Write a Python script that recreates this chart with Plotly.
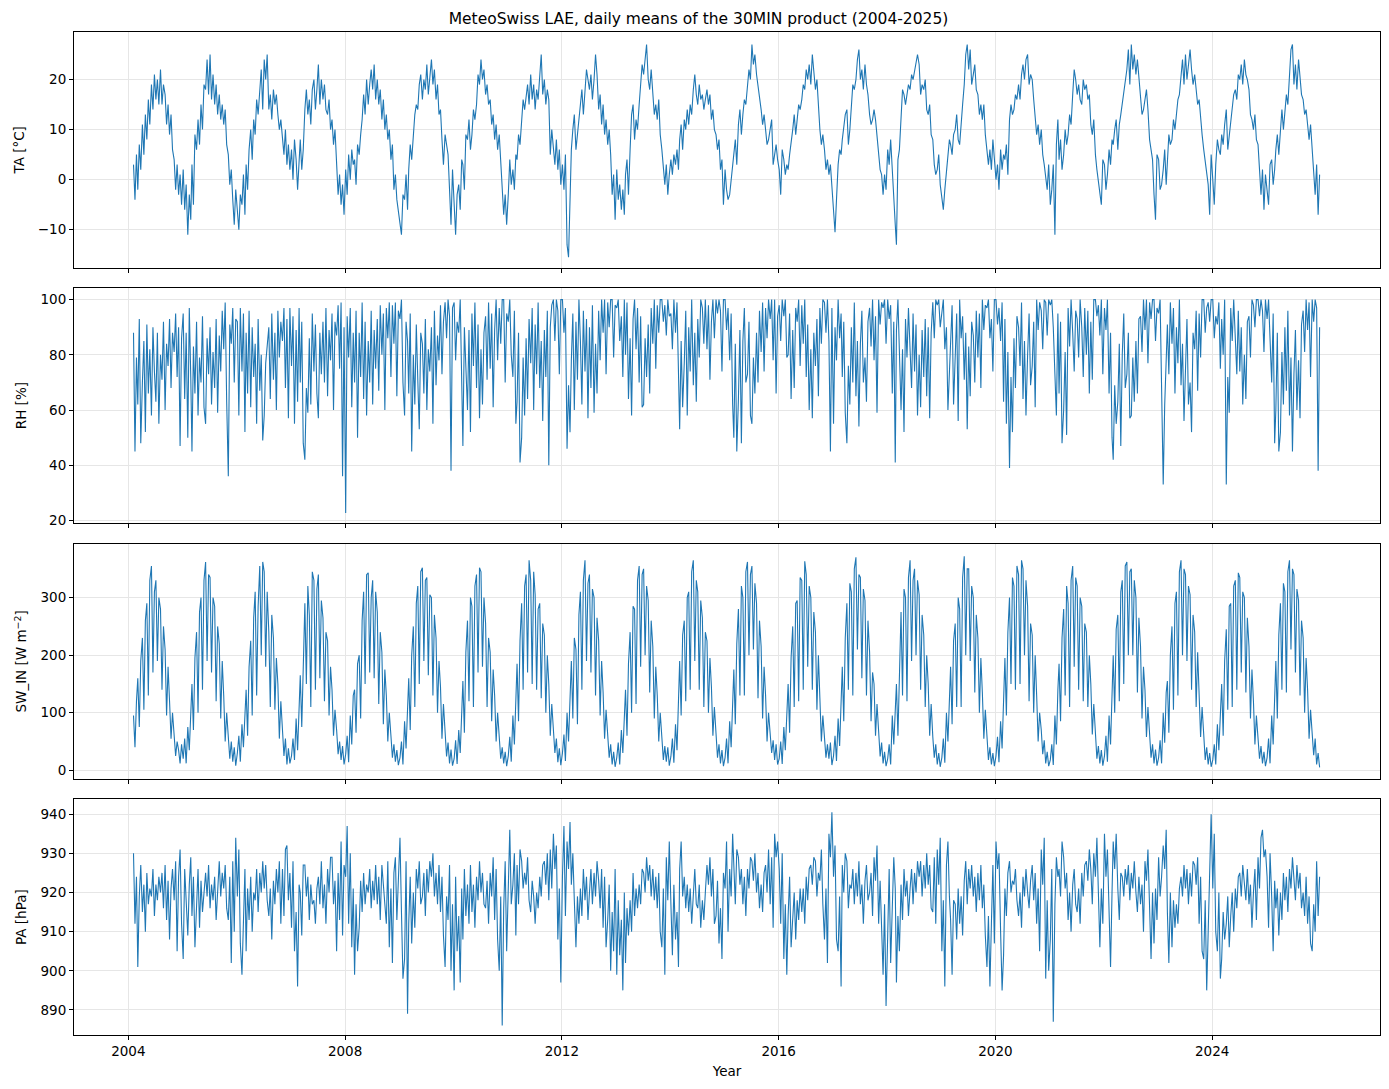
import plotly.graph_objects as go
from plotly.subplots import make_subplots
import pandas as pd

# values, one value per ~10 days (days 5, 15, 25 of each month)
YEARS = list(range(2004, 2026))

TA = [
    [3,-4,5, -2,7,2, 11,5,13, 8,16,11, 19,14,21, 16,20,15, 22,15,19, 17,11,15, 9,13,6, 4,-2,3, -3,1,-5],
    [2,-6,-1, -11,-3,-8, 3,-5,9, 6,12,7, 15,10,19, 18,24,17, 25,16,21, 15,19,13, 17,12,15, 11,14,7, 5,-1,2, -4,-9,-2],
    [-6,-10,-3, -5,1,-7, 3,-2,6, 10,4,12, 9,16,13, 17,22,14, 24,20,25, 14,17,12, 18,15,17, 13,10,12, 8,5,10, 3,7,2],
    [6,0,8, 4,-2,5, 8,2,6, 14,18,13, 16,11,18, 20,14,18, 23,15,20, 16,19,14, 13,16,10, 12,7,10, 3,-3,1, -5,-1,-7],
    [2,-3,5, 0,6,3, 4,-1,7, 5,9,12, 17,13,20, 15,19,22, 18,23,16, 20,15,18, 12,16,10, 13,8,10, 4,7,-2, 1,-4,-6],
    [-8,-11,-3, -4,1,-6, 2,7,4, 10,13,15, 14,19,21, 16,20,18, 23,17,21, 24,19,22, 16,19,13, 14,8,3, 9,7,5, -2,-9,2],
    [-5,-11,-3, -1,-6,4, 3,-2,9, 8,12,6, 9,14,12, 15,21,19, 24,20,22, 17,19,15, 16,11,13, 8,11,6, 9,4,-1, -7,-3,-9],
    [-3,4,-1, 2,-2,5, 4,9,7, 12,16,14, 17,19,15, 21,16,19, 14,18,16, 22,25,17, 20,15,18, 16,5,10, 6,3,8, 2,6,-1],
    [3,-2,5, -13,-15.5,-6, 6,10,13, 6,9,11, 15,18,13, 17,22,20, 18,21,16, 20,25,21, 14,17,11, 15,9,12, 7,10,5, -3,1,-8],
    [2,-4,-1, -6,-2,-7, 1,4,-3, 6,13,15, 8,12,10, 15,19,23, 21,24,27, 20,18,22, 17,13,15, 12,16,9, 6,2,-1, 3,-3,1],
    [4,1,5, 3,6,2, 8,11,6, 12,10,14, 11,15,13, 18,21,17, 15,19,16, 17,14,16, 18,15,17, 12,14,10, 9,6,8, 2,4,-5],
    [2,-2,-4, -3,0,3, 5,8,3, 11,14,9, 13,16,15, 18,22,20, 27,23,25, 21,19,17, 14,11,13, 10,7,8, 10,12,3, 5,7,4],
    [2,-3,6, 4,1,3, 2,5,7, 10,13,9, 12,15,14, 16,19,18, 22,20,23, 19,25,21, 18,20,14, 10,7,9, 6,2,4, 1,3,-2],
    [-6,-10.5,-4, 3,6,5, 8,11,13, 14,7,10, 15,19,18, 20,24,26, 20,22,18, 23,19,17, 13,11,12, 14,12,9, 5,2,1, -3,1,-2],
    [6,3,8, 1,-4,-9, -13,4,6, 12,18,17, 15,17,19, 18,21,20, 22,24,25, 23,17,19, 18,20,14, 13,15,9, 8,3,1, 2,5,-1],
    [-4,-6,-2, 2,6,8, 7,5,9, 10,13,8, 7,12,15, 19,25,27, 22,26,19, 21,23,18, 17,13,15, 12,15,9, 5,3,6, 2,8,4],
    [0,3,-2, 6,2,5, 4,7,1, 12,15,13, 14,17,16, 19,16,21, 23,20,24, 25,19,21, 20,16,13, 9,11,7, 10,5,3, 1,-2,3],
    [-5,-2,3, -11,7,12, 4,8,2, 5,10,7, 9,13,11, 17,22,20, 17,19,16, 15,20,18, 19,16,17, 11,9,12, 5,2,0, -2,-5,4],
    [3,-2,1, 6,3,8, 7,10,12, 6,11,13, 15,18,20, 22,26,19, 27,22,25, 21,24,20, 17,13,14, 16,18,14, 8,6,4, -3,-8,5],
    [4,-2,-1, 2,6,-1, 5,9,7, 8,12,10, 13,16,17, 21,24,19, 25,20,23, 26,22,19, 21,18,15, 16,12,9, 6,4,2, -1,-7,5],
    [0,-5,3, 8,6,5, 9,7,11, 14,6,9, 12,15,17, 18,16,21, 20,23,19, 24,21,20, 18,13,12, 10,13,8, 7,2,-3, 2,-6,1],
    [-2,-5,3, 4,-1,2, 6,9,5, 11,14,10, 13,17,15, 22,26,27, 19,23,18, 24,20,17, 16,13,14, 10,8,11, 6,2,-3, 3,-7,1],
]

RH = [
    [88,45,79, 62,93,48, 70,85,52, 91,66,82, 58,90,74, 63,88,55, 80,71,92, 60,84,76, 93,68,88, 81,95,72, 90,47,86],
    [95,64,88, 50,97,72, 45,83,66, 92,58,79, 70,94,61, 55,86,73, 90,62,81, 68,93,59, 87,74,96, 82,99,63, 36,91,84, 97,70,93],
    [92,58,97, 74,95,52, 88,66,96, 61,90,72, 84,55,93, 67,80,49, 58,77,85, 90,64,95, 71,88,60, 96,79,92, 85,97,68, 93,57,97],
    [76,94,55, 89,63,97, 70,92,48, 42,68,59, 86,62,95, 74,91,66, 57,88,73, 92,70,97, 65,89,78, 95,60,92, 87,98,75, 99,36,90],
    [22.7,94,79, 97,61,88, 70,96,50, 88,72,99, 64,92,58, 85,70,96, 62,89,75, 93,67,98, 80,95,60, 97,86,99, 72,98,84, 99,65,96],
    [93,100,70, 58,92,85, 66,95,45, 80,62,91, 71,53,88, 84,66,93, 60,82,74, 90,55,96, 69,87,78, 98,73,92, 99,86,100, 94,38,97],
    [99,78,92, 88,100,64, 47,90,73, 60,89,52, 95,76,99, 68,91,57, 82,62,88, 94,71,99, 75,95,61, 89,100,78, 97,84,100, 100,70,95],
    [92,100,80, 72,96,55, 63,88,41, 50,79,58, 86,64,93, 77,97,60, 91,73,99, 68,85,56, 89,72,96, 40,90,98, 100,85,100, 96,73,100],
    [100,88,97, 46,69,52, 78,95,60, 92,71,100, 85,62,96, 74,93,57, 90,68,98, 59,84,66, 96,78,100, 88,100,73, 99,90,100, 100,79,98],
    [97,100,85, 94,72,100, 80,99,64, 86,58,93, 100,82,97, 70,94,61, 62,86,72, 91,66,97, 84,100,75, 98,88,100, 100,92,98, 87,100,94],
    [95,82,100, 88,99,70, 53,85,61, 77,96,58, 90,74,100, 69,88,63, 93,79,100, 97,84,100, 82,98,71, 92,100,86, 100,95,100, 96,74,100],
    [100,89,97, 78,95,62, 50,84,45, 64,89,48, 85,97,70, 73,92,58, 55,79,66, 88,70,96, 81,99,74, 97,86,100, 93,100,78, 100,66,94],
    [98,85,100, 94,100,79, 80,95,64, 89,68,97, 92,100,76, 98,84,100, 72,91,60, 82,57,88, 76,93,65, 97,84,100, 99,88,100, 85,45,97],
    [55,90,78, 100,86,95, 72,92,59, 48,76,62, 90,70,99, 65,85,54, 84,96,70, 79,63,92, 97,83,100, 78,94,59, 100,91,99, 97,100,84],
    [100,93,98, 66,92,41, 89,100,77, 60,82,52, 93,79,97, 84,68,95, 74,91,58, 80,61,89, 72,93,65, 90,57,88, 99,86,100, 98,100,90],
    [96,100,82, 90,60,75, 84,98,62, 78,95,56, 100,86,94, 71,88,53, 83,65,92, 87,70,96, 79,95,68, 100,89,98, 97,100,86, 93,74,100],
    [100,91,97, 85,99,63, 93,55,81, 39,72,52, 86,68,94, 90,76,99, 64,85,58, 80,95,69, 76,92,61, 100,89,99, 96,82,100, 99,87,100],
    [98,100,90, 73,58,95, 66,92,48, 60,81,51, 97,83,100, 88,74,96, 93,79,100, 90,72,97, 80,96,66, 92,71,100, 100,94,98, 87,100,73],
    [97,89,100, 66,88,50, 42,69,55, 63,84,47, 80,95,68, 73,88,57, 58,79,63, 85,66,93, 94,81,100, 89,100,77, 99,93,100, 100,85,97],
    [95,100,70, 33,62,79, 91,73,99, 84,97,66, 90,77,100, 69,84,56, 78,93,62, 70,52,88, 82,96,67, 95,79,100, 100,88,97, 99,92,100],
    [100,86,94, 91,99,75, 93,80,100, 33,72,59, 97,85,100, 88,73,96, 74,90,62, 80,64,92, 94,79,100, 98,90,100, 100,94,100, 96,81,100],
    [93,100,85, 70,95,48, 60,88,45, 52,81,62, 90,67,96, 58,79,45, 73,89,60, 78,57,91, 96,81,100, 89,99,72, 100,92,100, 97,38,90],
]

SW_IN = [
    [95,40,120, 160,75,190, 230,105,260, 290,130,330, 355,170,310, 330,190,300, 280,140,250, 210,95,180, 120,55,100, 60,25,50, 35,12,45],
    [20,55,12, 75,35,105, 150,70,195, 240,100,275, 300,140,330, 362,190,340, 335,170,300, 285,120,250, 220,90,190, 130,50,100, 65,20,50, 15,40,8],
    [30,60,15, 80,40,115, 140,60,180, 225,95,265, 310,130,285, 355,200,362, 345,180,310, 240,110,270, 230,105,195, 150,55,120, 75,25,55, 10,38,12],
    [25,55,18, 90,35,110, 165,75,205, 290,150,320, 270,110,345, 330,140,315, 340,160,295, 265,120,240, 225,95,180, 140,60,105, 70,28,50, 18,42,10],
    [28,60,14, 95,45,130, 140,65,185, 200,90,260, 310,150,340, 343,170,300, 330,160,310, 275,115,240, 205,80,175, 130,50,100, 60,22,45, 15,35,9],
    [22,50,10, 85,38,120, 160,70,200, 250,110,290, 320,150,345, 352,190,330, 335,165,305, 300,130,270, 230,100,190, 145,55,115, 62,24,48, 12,36,8],
    [20,52,11, 70,30,100, 155,65,205, 260,120,300, 285,110,320, 340,170,352, 345,180,300, 255,110,230, 205,85,175, 130,50,100, 55,20,40, 12,32,7],
    [25,58,15, 95,45,135, 185,85,225, 290,140,320, 340,170,365, 330,150,345, 305,140,280, 290,125,255, 235,100,200, 150,60,115, 72,30,55, 14,38,9],
    [30,62,16, 100,50,140, 190,90,230, 210,80,270, 310,140,330, 365,190,325, 340,170,315, 300,130,265, 225,95,190, 135,55,105, 60,22,45, 10,32,6],
    [22,48,10, 70,30,105, 140,60,185, 240,100,285, 280,115,330, 355,180,340, 350,200,320, 295,135,260, 215,90,180, 130,50,100, 55,18,42, 15,40,8],
    [24,55,13, 80,35,120, 190,95,235, 260,120,300, 310,140,345, 365,190,330, 310,140,295, 265,110,240, 225,100,195, 145,60,110, 58,22,45, 12,35,7],
    [22,55,12, 85,40,125, 175,80,220, 280,130,320, 300,130,345, 362,200,340, 355,210,325, 290,125,260, 215,90,180, 130,50,100, 70,30,52, 18,45,10],
    [20,50,11, 75,35,110, 150,65,195, 250,110,290, 295,120,335, 330,140,363, 340,180,320, 300,140,275, 240,105,200, 125,50,95, 60,22,45, 20,48,9],
    [25,60,16, 90,42,125, 180,85,230, 290,140,325, 310,130,350, 370,210,340, 335,160,315, 295,130,260, 205,85,170, 150,60,115, 62,24,48, 12,32,7],
    [20,45,10, 95,45,125, 150,60,190, 275,130,315, 300,120,335, 365,190,330, 350,200,330, 305,140,270, 235,110,200, 150,60,115, 58,22,45, 10,30,6],
    [22,55,13, 100,50,140, 180,80,225, 255,110,300, 280,110,335, 372,200,350, 350,190,320, 300,135,270, 230,100,195, 135,55,105, 52,18,40, 10,30,7],
    [25,58,14, 85,38,115, 195,95,240, 300,150,335, 320,140,355, 340,150,365, 350,200,330, 285,120,255, 235,100,200, 130,50,100, 70,28,52, 12,32,7],
    [18,45,9, 95,45,140, 185,85,230, 280,130,320, 290,110,330, 355,180,335, 320,140,300, 285,120,255, 240,110,200, 150,62,115, 55,20,42, 12,35,8],
    [25,60,15, 95,45,130, 200,100,245, 270,120,310, 330,150,355, 362,200,345, 350,200,330, 300,135,265, 215,90,180, 140,58,110, 58,22,45, 12,36,8],
    [22,52,12, 100,48,135, 155,65,200, 250,105,290, 310,130,345, 365,200,350, 340,190,320, 305,140,270, 240,110,205, 145,58,110, 52,18,40, 10,30,6],
    [18,45,10, 80,35,110, 150,60,190, 245,105,285, 290,110,320, 330,140,343, 335,170,310, 300,135,265, 215,90,175, 120,45,95, 55,20,42, 12,32,7],
    [22,55,12, 95,45,130, 190,90,235, 290,140,325, 310,135,345, 365,210,350, 340,170,315, 295,130,260, 230,100,195, 140,55,105, 70,26,55, 10,30,5],
]

PA = [
    [930,912,924, 901,919,927, 915,922,910, 925,917,921, 919,926,914, 922,918,924, 920,925,916, 927,913,923, 908,921,926, 918,928,905, 924,931,912],
    [903,926,918, 909,922,929, 914,924,906, 917,926,911, 923,915,921, 925,919,927, 916,922,918, 924,913,920, 928,919,925, 921,927,916, 913,924,902, 928,910,934],
    [919,931,907, 899,916,926, 905,921,913, 924,910,920, 918,926,915, 925,920,928, 921,927,918, 914,921,908, 923,917,926, 920,928,912, 926,914,931, 932,918,925],
    [911,928,905, 915,896,922, 920,909,927, 927,919,924, 913,922,917, 918,912,921, 924,917,928, 916,922,912, 926,920,929, 929,917,923, 905,925,913, 933,909,927],
    [924,937,912, 930,906,921, 899,917,905, 911,923,915, 925,917,922, 920,926,916, 923,918,927, 917,924,913, 927,921,918, 912,928,906, 921,902,925, 929,913,922],
    [934,915,898, 903,928,889, 912,924,907, 920,911,926, 921,928,917, 919,925,914, 926,920,928, 924,930,919, 925,917,927, 915,924,909, 901,919,913, 927,900,917],
    [895,924,905, 914,897,921, 908,926,914, 922,912,927, 915,922,911, 924,918,928, 920,925,917, 916,923,912, 925,919,929, 913,926,908, 900,919,886, 916,928,905],
    [925,936,917, 922,930,909, 927,917,931, 928,921,925, 922,929,918, 915,923,919, 912,920,916, 924,919,927, 928,922,930, 918,931,921, 935,926,932, 908,921,897],
    [924,937,914, 933,926,938, 922,930,918, 906,919,912, 921,914,926, 918,924,913, 920,926,917, 925,919,928, 923,916,926, 911,924,906, 913,922,900, 915,905,926],
    [899,918,904, 913,895,920, 902,916,909, 918,910,925, 914,921,916, 922,917,926, 925,920,929, 923,927,919, 926,918,924, 916,925,910, 906,921,899, 929,918,933],
    [917,904,922, 908,915,901, 926,933,919, 924,916,922, 915,921,912, 921,926,917, 916,922,911, 918,913,920, 927,922,929, 919,926,912, 914,923,907, 916,903,925],
    [921,933,910, 926,919,935, 928,917,931, 929,922,926, 917,924,914, 926,921,929, 928,923,930, 920,925,916, 922,915,925, 927,920,931, 917,929,911, 935,929,933],
    [926,912,930, 903,917,899, 914,924,906, 912,920,908, 918,913,921, 915,921,912, 924,918,926, 927,922,929, 928,919,925, 923,931,917, 908,921,902, 935,929,940.5],
    [924,932,908, 905,919,896, 927,920,930, 928,916,922, 921,926,917, 925,919,928, 917,922,912, 923,927,918, 920,925,914, 929,923,932, 912,923,907, 899,917,891],
    [909,926,902, 917,929,921, 897,914,905, 922,913,926, 919,923,914, 921,926,917, 925,920,928, 924,928,919, 927,921,930, 922,927,916, 915,929,912, 931,922,934],
    [905,918,896, 927,933,919, 913,899,918, 917,908,921, 912,919,909, 923,928,917, 926,921,927, 919,924,915, 925,918,927, 916,922,909, 901,914,896, 912,927,907],
    [933,926,930, 910,895,904, 921,914,925, 928,920,923, 922,926,918, 914,920,911, 924,919,926, 920,916,923, 927,918,925, 912,921,905, 931,922,934, 898,918,900],
    [908,926,887, 917,929,924, 926,919,933, 929,921,925, 913,920,910, 922,926,917, 915,921,912, 925,919,927, 928,923,931, 926,917,930, 924,934,919, 906,921,912],
    [935,924,931, 912,901,920, 933,926,935, 921,913,925, 924,919,926, 922,927,918, 925,921,928, 920,915,924, 917,922,910, 928,923,931, 914,903,920, 907,921,913],
    [929,919,924, 932,926,936, 915,902,920, 906,918,911, 917,912,921, 924,919,927, 921,926,917, 925,919,928, 927,922,929, 912,924,905, 903,918,895, 910,928,940],
    [921,935,910, 905,920,898, 903,915,908, 912,919,906, 914,920,910, 921,916,924, 925,919,927, 923,918,926, 917,922,911, 920,926,913, 929,921,934, 936,929,931],
    [924,911,930, 919,905,923, 916,921,909, 920,913,925, 918,924,915, 926,921,929, 923,918,927, 921,925,916, 920,914,924, 912,919,907, 905,917,910, 928,914,924],
]

DEKAD_DAYS = [5, 15, 25]


def to_series(per_year):
    dates, vals = [], []
    for year, yv in zip(YEARS, per_year):
        slots = [(m, d) for m in range(1, 13) for d in DEKAD_DAYS]
        slots = slots[len(slots) - len(yv):]   # first year starts in February
        for (m, d), v in zip(slots, yv):
            dates.append(pd.Timestamp(year, m, d))
            vals.append(v)
    return dates, vals


panels = [
    (TA, "TA [°C]", [-17.6, 29.5], 10),
    (RH, "RH [%]", [18.9, 104.3], 20),
    (SW_IN, "SW_IN [W m<sup>−2</sup>]", [-15.6, 394], 100),
    (PA, "PA [hPa]", [883.6, 943.8], 10),
]

fig = make_subplots(rows=4, cols=1, shared_xaxes=True, vertical_spacing=0.02)

for i, (data, label, yr, dt) in enumerate(panels, start=1):
    x, y = to_series(data)
    fig.add_trace(go.Scatter(x=x, y=y, mode="lines",
                             line=dict(color="#1f77b4", width=1.1),
                             showlegend=False), row=i, col=1)
    fig.update_yaxes(title_text=label, range=yr, dtick=dt, row=i, col=1)

axis_style = dict(showline=True, mirror=True, linecolor="black", linewidth=1,
                  ticks="outside", ticklen=4, tickcolor="black",
                  gridcolor="#e6e6e6", zeroline=False, automargin=False,
                  tickfont=dict(size=13.5, color="black"))
fig.update_xaxes(**axis_style, type="date",
                 range=["2002-12-31", "2027-02-05"],
                 tick0="2004-01-01", dtick="M48", tickformat="%Y")
fig.update_yaxes(**axis_style, title_font=dict(size=13.5, color="black"),
                 title_standoff=10)
fig.update_xaxes(title_text="Year", title_font=dict(size=13.5, color="black"),
                 title_standoff=8, row=4, col=1)

# the page adds a small body margin, so the figure is made a bit smaller
fig.update_layout(
    width=1381, height=1081,
    margin=dict(l=66, r=9, t=24, b=54),
    plot_bgcolor="white", paper_bgcolor="white",
    font=dict(family="DejaVu Sans", color="black"),
    title=dict(text="MeteoSwiss LAE, daily means of the 30MIN product (2004-2025)",
               x=0.5, xanchor="center", y=0.9905, yanchor="middle",
               font=dict(size=15.5)),
)

fig.write_html("out.html")
